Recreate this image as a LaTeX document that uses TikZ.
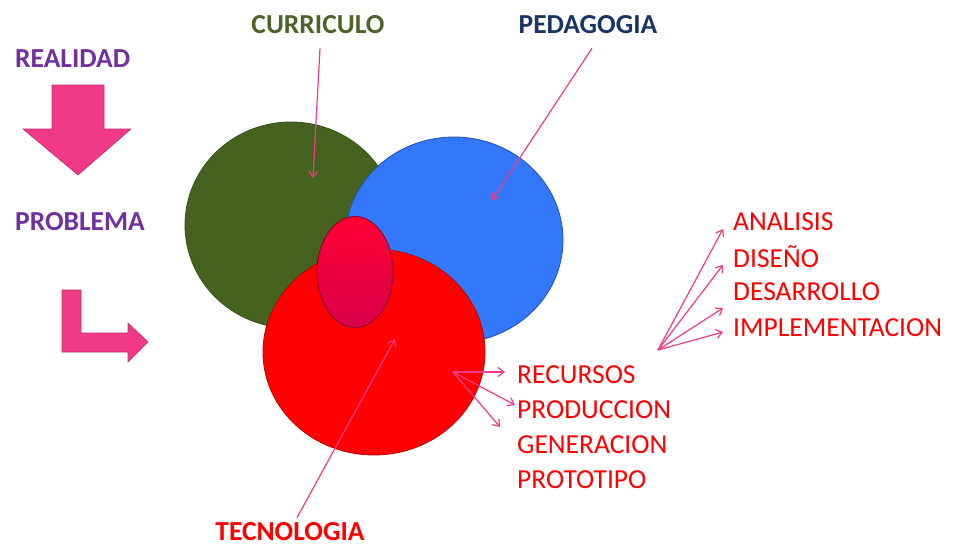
\documentclass[tikz,border=0pt]{standalone}
\usepackage{fontspec}
\setmainfont{Carlito}
\usetikzlibrary{arrows.meta, positioning, shapes.geometric}

\definecolor{curgreen}{RGB}{69,99,31}
\definecolor{pedblue}{RGB}{51,119,250}
\definecolor{tecred}{RGB}{255,0,0}
\definecolor{fatpink}{RGB}{240,58,136}
\definecolor{purp}{RGB}{112,48,160}
\definecolor{navy}{RGB}{28,52,100}
\definecolor{olive}{RGB}{79,98,40}

\tikzset{
	set/.style={ellipse, inner sep=0pt, line width=0.8pt},
	lbl/.style={font=\fontsize{27.5}{30}\selectfont\bfseries, inner sep=1pt},
	item/.style={font=\fontsize{27.5}{30}\selectfont, text=tecred, anchor=west, inner sep=0pt},
	link/.style={draw=fatpink, line width=1.2pt, -{Straight Barb[length=6pt,width=9pt]}},
	fat/.style={fill=fatpink, draw=fatpink!80!black, line width=0.6pt},
}

\begin{document}
\begin{tikzpicture}[x=1pt, y=-1pt]
	\useasboundingbox (0,0) rectangle (953,546);
	
	% left side
	\node[lbl, text=purp, anchor=west] (real) at (14,59) {REALIDAD};
	\node[lbl, text=purp, anchor=west] (prob) at (14,222) {PROBLEMA};
	\draw[fat] (52,85) -- (104,85) -- (104,129) -- (131,129) -- (78,175)
		-- (23,129) -- (52,129) -- cycle;
	\draw[fat] (62,290) -- (81,290) -- (81,333) -- (128,333) -- (128,323)
		-- (148,342) -- (128,362) -- (128,352) -- (62,352) -- cycle;
	
	% sets
	\node[set, fill=curgreen, draw=curgreen!80!black, minimum width=212, minimum height=206] (C) at (291,225) {};
	\node[set, fill=pedblue, draw=pedblue!70!black, minimum width=218, minimum height=206] (P) at (454,240) {};
	\node[set, fill=tecred, draw=tecred!75!black, minimum width=222, minimum height=206] (T) at (374,352) {};
	\node[set, top color=red!80!magenta, bottom color=red!65!magenta!85!black, draw=purple!70!black,
		minimum width=76, minimum height=111] (core) at (355,272) {};
	
	% titles
	\node[lbl, text=olive] (cur) at (318,25) {CURRICULO};
	\node[lbl, text=navy] (ped) at (588,25) {PEDAGOGIA};
	\node[lbl, text=tecred] (tec) at (290,532) {TECNOLOGIA};
	
	\coordinate (curin) at (313,178);
	\coordinate (pedin) at (492,200);
	\coordinate (tecin) at (395,339);
	\draw[link] ([shift={(2,13)}]cur.south) -- (curin);
	\draw[link] ([shift={(4,13)}]ped.south) -- (pedin);
	\draw[link] ([shift={(7,-4)}]tec.north) -- (tecin);
	
	% products
	\node[item] (rec) at (517,375) {RECURSOS};
	\node[item] (pro) at (517,410) {PRODUCCION};
	\node[item] (gen) at (517,445) {GENERACION};
	\node[item] (prt) at (517,480) {PROTOTIPO};
	
	\coordinate (out) at (453,372);
	\draw[link] (out) -- ([shift={(-12,-3)}]rec.west);
	\draw[link] (out) -- ([shift={(-2,-5)}]pro.west);
	\draw[link] (out) -- ([shift={(-17,-18)}]gen.west);
	
	% phases
	\node[item] (ana) at (733,222) {ANALISIS};
	\node[item] (dis) at (733,257) {DISEÑO};
	\node[item] (des) at (733,292) {DESARROLLO};
	\node[item] (imp) at (733,328) {IMPLEMENTACION};
	
	\coordinate (fan) at (658,350);
	\draw[link] (fan) -- ([shift={(-10,7)}]ana.west);
	\draw[link] (fan) -- ([shift={(-10,8)}]dis.west);
	\draw[link] (fan) -- ([shift={(-10,16)}]des.west);
	\draw[link] (fan) -- ([shift={(-10,4)}]imp.west);
	
\end{tikzpicture}
\end{document}
